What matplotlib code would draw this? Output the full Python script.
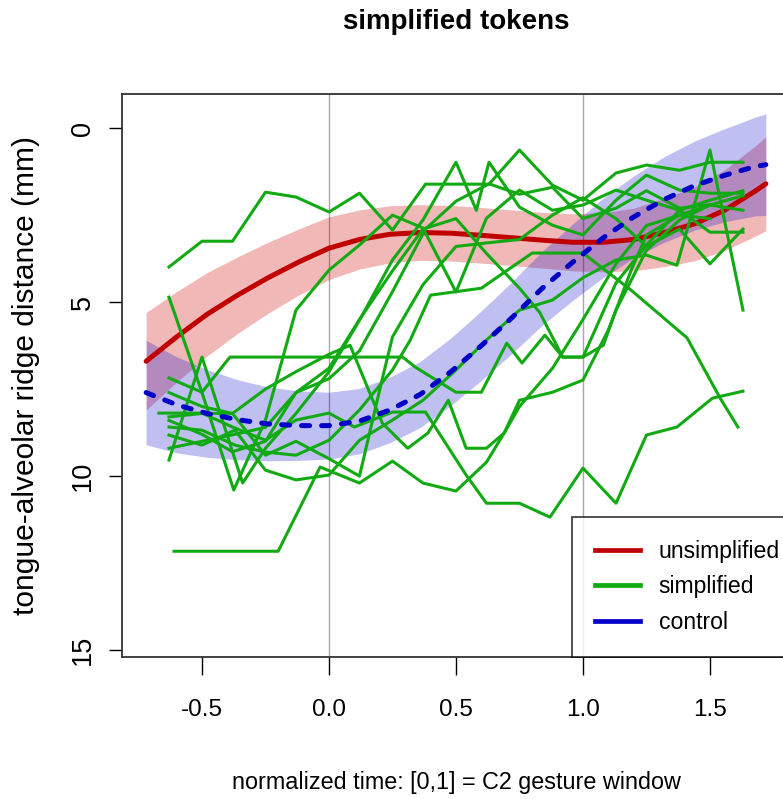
import numpy as np
import matplotlib
matplotlib.use("Agg")
import matplotlib.pyplot as plt
from matplotlib.lines import Line2D

plt.rcParams['font.family'] = ['Liberation Sans', 'DejaVu Sans']

# smoothed group curves (time, distance) and ribbon half-widths
curve_x = [-0.72, -0.6, -0.48, -0.36, -0.24, -0.12, 0.0, 0.12, 0.24, 0.36, 0.48,
           0.6, 0.72, 0.84, 0.96, 1.08, 1.2, 1.32, 1.44, 1.56, 1.68, 1.72]
unsimp_y = [6.7, 6.0, 5.35, 4.8, 4.3, 3.85, 3.45, 3.2, 3.05, 3.0, 3.02,
            3.08, 3.15, 3.22, 3.28, 3.28, 3.2, 3.0, 2.75, 2.35, 1.8, 1.6]
unsimp_se = [1.4, 1.3, 1.2, 1.1, 1.02, 0.95, 0.9, 0.85, 0.82, 0.8, 0.8,
             0.8, 0.8, 0.8, 0.82, 0.85, 0.9, 0.98, 1.06, 1.16, 1.3, 1.35]
control_y = [7.6, 7.95, 8.2, 8.38, 8.5, 8.55, 8.55, 8.42, 8.1, 7.65, 7.0,
             6.25, 5.45, 4.6, 3.85, 3.15, 2.55, 2.05, 1.65, 1.35, 1.1, 1.05]
control_se = [1.5, 1.38, 1.26, 1.15, 1.06, 1.0, 0.96, 0.94, 0.94, 0.95, 0.97,
              1.0, 1.03, 1.06, 1.1, 1.14, 1.18, 1.23, 1.28, 1.34, 1.42, 1.46]

# individual simplified tokens: (time, distance) per token
tokens = [
    ([-0.63, -0.5, -0.38, -0.25, -0.13, 0.0, 0.12, 0.25, 0.38, 0.5, 0.63, 0.75, 0.88, 1.0, 1.13, 1.25, 1.38, 1.5, 1.63],
     [3.99, 3.25, 3.25, 1.84, 1.98, 2.41, 1.87, 2.93, 1.61, 1.61, 1.61, 0.63, 1.64, 2.07, 1.29, 1.06, 1.21, 0.98, 0.98]),
    ([-0.63, -0.5, -0.375, -0.25, -0.13, 0.0, 0.12, 0.25, 0.37, 0.5, 0.62, 0.75, 0.88, 1.0, 1.13, 1.25, 1.38, 1.5, 1.63],
     [4.86, 7.6, 10.4, 8.39, 5.23, 4.08, 3.36, 2.5, 2.87, 4.71, 2.59, 1.78, 2.36, 2.21, 1.78, 2.07, 2.36, 2.99, 2.99]),
    ([-0.63, -0.5, -0.34, -0.25, -0.13, 0.0, 0.12, 0.25, 0.37, 0.5, 0.58, 0.63, 0.75, 0.88, 1.0, 1.13, 1.25, 1.38, 1.5, 1.63],
     [9.54, 6.58, 10.2, 9.2, 8.2, 7.0, 5.52, 3.79, 2.64, 0.98, 2.36, 0.98, 2.27, 2.79, 3.07, 2.07, 1.35, 1.78, 1.87, 1.87]),
    ([-0.63, -0.5, -0.39, -0.25, -0.13, 0.0, 0.12, 0.29, 0.34, 0.5, 0.6, 0.7, 0.76, 0.85, 0.92, 1.0, 1.08, 1.13, 1.25, 1.38, 1.5, 1.63],
     [7.18, 7.59, 6.58, 6.58, 6.58, 6.58, 6.58, 6.58, 6.87, 7.59, 7.59, 6.18, 6.75, 5.95, 6.58, 6.58, 6.24, 5.23, 3.51, 2.64, 2.21, 1.94]),
    ([-0.67, -0.5, -0.38, -0.25, -0.13, 0.0, 0.1, 0.25, 0.38, 0.54, 0.62, 0.75, 0.87, 1.0, 1.13, 1.25, 1.37, 1.51, 1.63],
     [8.19, 8.19, 8.59, 8.97, 8.39, 8.19, 8.59, 8.16, 8.16, 9.97, 10.78, 10.78, 11.18, 9.77, 10.78, 8.82, 8.59, 7.76, 7.56]),
    ([-0.61, -0.2, -0.035, 0.12, 0.25, 0.37, 0.5, 0.62, 0.69, 0.75, 0.88, 1.0, 1.1, 1.19, 1.25, 1.38, 1.5, 1.63],
     [12.16, 12.16, 9.74, 10.2, 9.57, 10.2, 10.43, 9.6, 8.76, 7.82, 7.59, 7.24, 5.8, 4.08, 3.07, 2.5, 2.21, 2.36]),
    ([-0.63, -0.5, -0.37, -0.25, -0.13, 0.0, 0.12, 0.25, 0.32, 0.4, 0.6, 0.8, 1.0, 1.19, 1.41, 1.54, 1.61],
     [8.59, 8.68, 9.11, 9.31, 9.4, 8.97, 8.1, 6.95, 6.09, 4.8, 4.6, 3.59, 3.59, 4.66, 6.03, 7.76, 8.59]),
    ([-0.63, -0.5, -0.37, -0.25, -0.13, 0.0, 0.12, 0.25, 0.37, 0.5, 0.62, 0.75, 0.88, 1.0, 1.13, 1.25, 1.37, 1.5, 1.63],
     [8.82, 9.11, 8.68, 9.83, 10.11, 9.97, 8.97, 8.39, 7.82, 6.95, 6.09, 5.23, 4.94, 4.3, 3.79, 3.65, 3.94, 0.63, 5.23]),
    ([-0.63, -0.5, -0.37, -0.25, -0.13, 0.0, 0.12, 0.25, 0.37, 0.5, 0.62, 0.75, 0.83, 0.92, 1.0, 1.13, 1.25, 1.38, 1.5, 1.63],
     [9.2, 9.0, 8.8, 8.6, 7.6, 6.9, 5.5, 4.1, 2.9, 2.6, 3.6, 4.6, 5.3, 6.58, 6.58, 4.45, 3.36, 2.36, 2.07, 1.8]),
    ([-0.63, -0.5, -0.38, -0.25, -0.13, 0.0, 0.083, 0.21, 0.31, 0.39, 0.47, 0.54, 0.62, 0.69, 0.75, 0.88, 1.0, 1.13, 1.25, 1.38, 1.5],
     [7.6, 8.0, 8.2, 7.5, 7.0, 6.5, 6.24, 8.48, 9.2, 8.76, 7.82, 9.2, 9.2, 8.76, 8.0, 6.9, 5.5, 3.9, 2.8, 2.5, 2.6]),
    ([-0.63, -0.5, -0.38, -0.25, -0.13, 0.0, 0.12, 0.25, 0.38, 0.5, 0.63, 0.75, 0.88, 1.0, 1.13, 1.25, 1.38, 1.5],
     [8.4, 8.8, 9.3, 9.0, 7.6, 7.2, 6.4, 4.7, 2.9, 2.1, 1.6, 1.9, 1.7, 2.6, 2.3, 1.8, 2.3, 2.2]),
    ([-0.63, -0.5, -0.38, -0.25, -0.13, 0.0, 0.12, 0.21, 0.25, 0.37, 0.5, 0.62, 0.75, 0.88, 1.0, 1.13, 1.25, 1.38, 1.5, 1.63],
     [8.3, 8.2, 8.2, 9.4, 9.0, 9.5, 10.0, 7.2, 6.0, 4.5, 3.4, 3.3, 3.2, 2.5, 2.0, 2.6, 3.4, 2.9, 3.9, 2.9]),
]

red = '#C00000'
blue = '#0000C8'
green = '#12AA12'

fig = plt.figure(figsize=(7.83, 7.99), dpi=100)
ax = fig.add_axes([0.1558, 0.1777, 0.8531, 0.7046])

cx = np.array(curve_x)
uy, us = np.array(unsimp_y), np.array(unsimp_se)
cy, cs = np.array(control_y), np.array(control_se)

ax.axvline(0, color='#A8A8A8', lw=1, zorder=1)
ax.axvline(1, color='#A8A8A8', lw=1, zorder=1)

ax.fill_between(cx, uy - us, uy + us, color='#CD0000', alpha=0.28, lw=0, zorder=2)
ax.fill_between(cx, cy - cs, cy + cs, color='#0000CD', alpha=0.25, lw=0, zorder=2)

ax.plot(cx, uy, color=red, lw=3.6, solid_capstyle='round', zorder=3)
for tx, ty in tokens:
    ax.plot(tx, ty, color=green, lw=2.2, zorder=4)
ax.plot(cx, cy, color=blue, lw=3.6, dashes=(1.6, 2.4), dash_capstyle='round', zorder=5)

ax.set_xlim(-0.815, 1.815)
ax.set_ylim(15.2, -0.98)
ax.set_xticks([-0.5, 0.0, 0.5, 1.0, 1.5])
ax.set_xticklabels(['-0.5', '0.0', '0.5', '1.0', '1.5'])
ax.set_yticks([0, 5, 10, 15])
ax.tick_params(axis='x', length=13, width=1, pad=17, labelsize=17.5)
ax.tick_params(axis='y', length=9.5, width=1, pad=9, labelsize=19.5)
for lab in ax.get_yticklabels():
    lab.set_rotation(90)
    lab.set_va('center')
for sp in ax.spines.values():
    sp.set_color('#333333')
    sp.set_linewidth(1.3)

ax.set_xlabel('normalized time: [0,1] = C2 gesture window', fontsize=16.8, labelpad=36)
ax.set_ylabel('tongue-alveolar ridge distance (mm)', fontsize=21.5, labelpad=22)
fig.text(0.583, 0.972, 'simplified tokens', ha='center', va='center',
         fontsize=20, fontweight='bold')

handles = [Line2D([], [], color=red, lw=3.4),
           Line2D([], [], color=green, lw=3.4),
           Line2D([], [], color=blue, lw=3.4)]
leg = ax.legend(handles, ['unsimplified', 'simplified', 'control'],
                loc='lower left', bbox_to_anchor=(0.674, 0.0), borderaxespad=0,
                fontsize=16.6, frameon=True, fancybox=False, handlelength=1.95,
                handletextpad=0.8, labelspacing=0.55, borderpad=1.0)
leg.get_frame().set_edgecolor('black')
leg.get_frame().set_linewidth(1.2)

fig.savefig('out.png', dpi=100)
